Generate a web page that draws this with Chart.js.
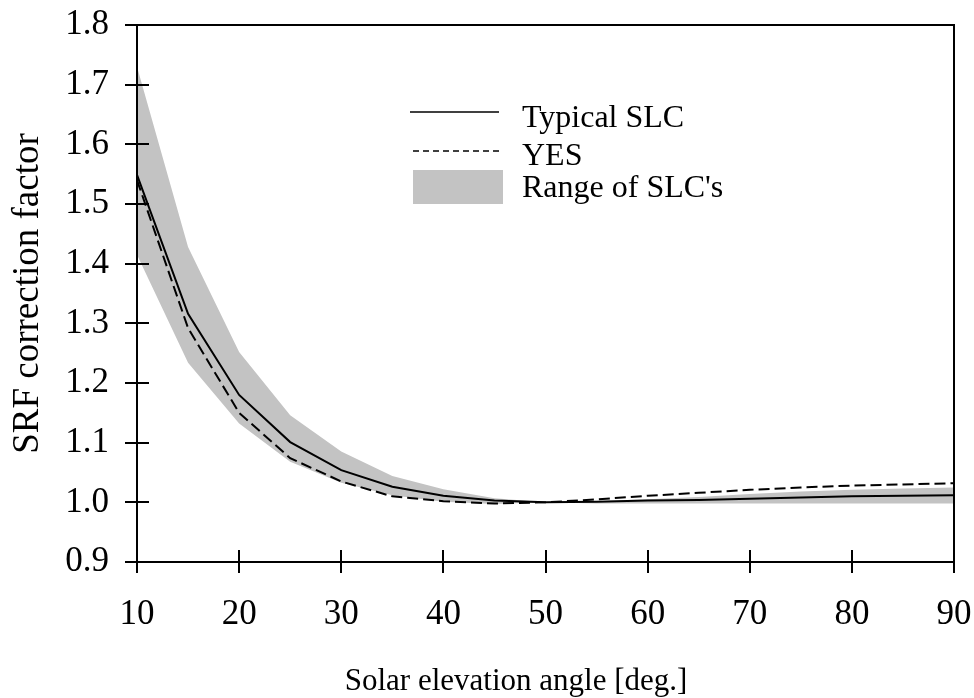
<!DOCTYPE html>
<html>
<head>
<meta charset="utf-8">
<title>SRF correction factor</title>
<script src="https://cdn.jsdelivr.net/npm/chart.js@4.4.1/dist/chart.umd.min.js"></script>
<style>
  html, body { margin: 0; padding: 0; background: #fff; }
  #wrap { width: 974px; height: 698px; }
</style>
</head>
<body>
<div id="wrap"><canvas id="chart" width="974" height="698"></canvas></div>
<script>
// Solar elevation angles (deg.)
const angles = [10, 15, 20, 25, 30, 35, 40, 45, 50, 55, 60, 65, 70, 75, 80, 85, 90];

// Typical SLC (solid line)
const typicalSLC = [1.549, 1.316, 1.180, 1.101, 1.054, 1.026, 1.011, 1.003, 1.000,
  1.001, 1.003, 1.004, 1.006, 1.008, 1.010, 1.011, 1.012];

// YES (dashed line)
const yesValues = [1.540, 1.292, 1.150, 1.074, 1.035, 1.010, 1.002, 0.998, 1.000,
  1.005, 1.011, 1.016, 1.021, 1.025, 1.028, 1.030, 1.032];

// Range of SLC's (grey band)
const rangeUpper = [1.730, 1.428, 1.252, 1.146, 1.085, 1.044, 1.022, 1.007, 1.000,
  1.002, 1.005, 1.009, 1.014, 1.018, 1.021, 1.023, 1.025];
const rangeLower = [1.415, 1.234, 1.132, 1.068, 1.033, 1.012, 1.001, 0.997, 1.000,
  0.998, 0.998, 0.998, 0.998, 0.998, 0.998, 0.998, 0.998];

const seriesLabels = ["Typical SLC", "YES", "Range of SLC's"];
const xTitle = "Solar elevation angle [deg.]";
const yTitle = "SRF correction factor";

const FONT = "'Liberation Serif', 'DejaVu Serif', serif";
const BAND = "#c3c3c3";

const toPoints = (vals) => vals.map((v, i) => ({ x: angles[i], y: v }));

// Axis frame, crossing tick marks, x title and the legend
const framePlugin = {
  id: "frame",
  afterDraw(chart) {
    const { ctx, chartArea: a, scales: { x, y } } = chart;
    ctx.save();
    ctx.strokeStyle = "#000";
    ctx.lineWidth = 2;
    ctx.strokeRect(a.left, a.top, a.right - a.left, a.bottom - a.top);

    ctx.beginPath();
    y.ticks.forEach(t => {
      const py = Math.round(y.getPixelForValue(t.value));
      ctx.moveTo(a.left - 12, py);
      ctx.lineTo(a.left + 12, py);
    });
    x.ticks.forEach(t => {
      const px = Math.round(x.getPixelForValue(t.value));
      ctx.moveTo(px, a.bottom - 12);
      ctx.lineTo(px, a.bottom + 11);
    });
    ctx.stroke();

    ctx.fillStyle = "#000";
    ctx.textBaseline = "alphabetic";

    // x axis title (sits a bit left of the plot centre in the original)
    ctx.font = "31px " + FONT;
    ctx.textAlign = "center";
    ctx.fillText(xTitle, 516, 690);

    // legend
    ctx.font = "32px " + FONT;
    ctx.textAlign = "left";

    ctx.lineWidth = 1.5;
    ctx.beginPath();
    ctx.moveTo(410, 112);
    ctx.lineTo(499, 112);
    ctx.stroke();
    ctx.fillText(seriesLabels[0], 522, 127);

    ctx.setLineDash([6, 4]);
    ctx.beginPath();
    ctx.moveTo(413, 151);
    ctx.lineTo(501, 151);
    ctx.stroke();
    ctx.setLineDash([]);
    ctx.fillText(seriesLabels[1], 522, 165);

    ctx.fillStyle = BAND;
    ctx.fillRect(413, 170, 90, 34);
    ctx.fillStyle = "#000";
    ctx.fillText(seriesLabels[2], 522, 197);
    ctx.restore();
  }
};

new Chart(document.getElementById("chart"), {
  type: "line",
  data: {
    datasets: [
      {
        label: seriesLabels[0],
        data: toPoints(typicalSLC),
        borderColor: "#000",
        borderWidth: 2,
        pointRadius: 0,
        fill: false
      },
      {
        label: seriesLabels[1],
        data: toPoints(yesValues),
        borderColor: "#000",
        borderWidth: 2,
        borderDash: [11, 5],
        pointRadius: 0,
        fill: false
      },
      {
        label: seriesLabels[2],
        data: toPoints(rangeUpper),
        borderWidth: 0,
        borderColor: BAND,
        backgroundColor: BAND,
        pointRadius: 0,
        fill: "+1"
      },
      {
        label: "lower",
        data: toPoints(rangeLower),
        borderWidth: 0,
        borderColor: BAND,
        backgroundColor: BAND,
        pointRadius: 0,
        fill: false
      }
    ]
  },
  options: {
    responsive: false,
    animation: false,
    devicePixelRatio: 1,
    layout: { padding: { top: 25, right: 20, left: 0, bottom: 0 } },
    plugins: {
      legend: { display: false },
      tooltip: { enabled: false },
      filler: { drawTime: "beforeDatasetsDraw" }
    },
    scales: {
      x: {
        type: "linear",
        min: 10,
        max: 90,
        grid: { display: false, drawTicks: false },
        border: { display: false },
        ticks: {
          stepSize: 10,
          padding: 32,
          color: "#000",
          font: { family: FONT, size: 35 }
        },
        title: { display: false, text: xTitle },
        afterFit(scale) {
          scale.height = 136;
          scale.paddingLeft = 0;
          scale.paddingRight = 0;
        }
      },
      y: {
        min: 0.9,
        max: 1.8,
        grid: { display: false, drawTicks: false },
        border: { display: false },
        ticks: {
          stepSize: 0.1,
          padding: 28,
          color: "#000",
          font: { family: FONT, size: 35 },
          callback: (v) => Number(v).toFixed(1)
        },
        title: {
          display: true,
          text: yTitle,
          color: "#000",
          padding: { top: 6, bottom: 0 },
          font: { family: FONT, size: 37 }
        },
        afterFit(scale) {
          scale.width = 137;
          scale.paddingTop = 0;
          scale.paddingBottom = 0;
        }
      }
    }
  },
  plugins: [framePlugin]
});
</script>
</body>
</html>
